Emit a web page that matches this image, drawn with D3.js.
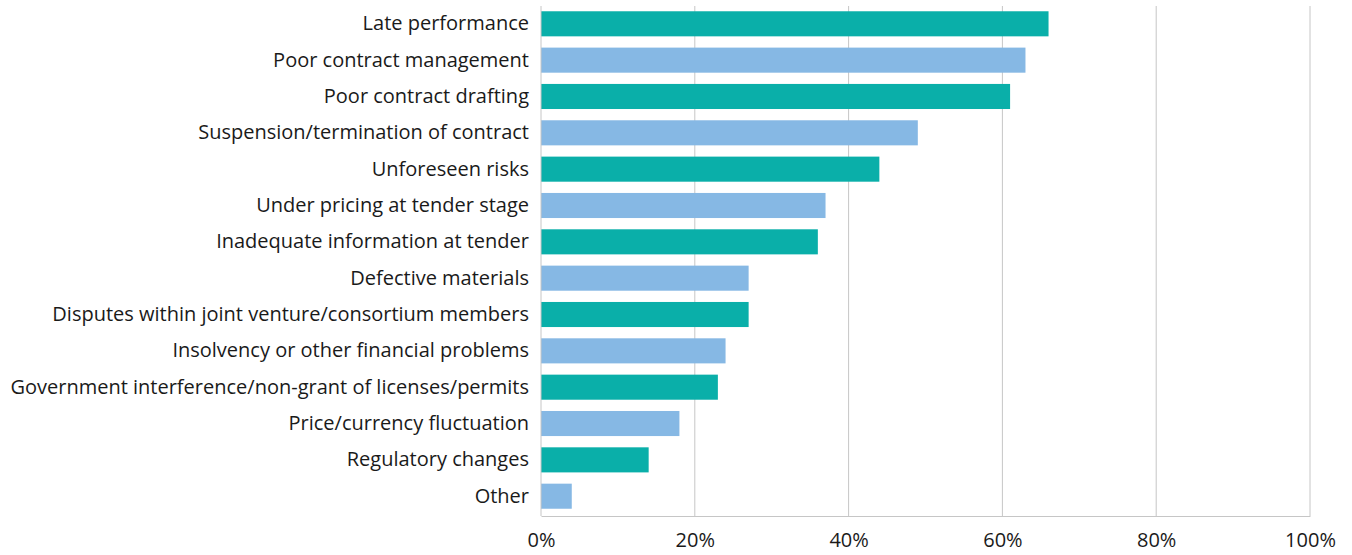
<!DOCTYPE html>
<html><head><meta charset="utf-8">
<script src="https://cdn.jsdelivr.net/npm/d3@7"></script>
<style>body{margin:0;background:#fff}svg{display:block}text{font-family:"Open Sans",sans-serif;fill:#1a1a1a}</style>
</head><body><svg id="c" width="1352" height="555"></svg>
<script>
const categories = ["Late performance","Poor contract management","Poor contract drafting","Suspension/termination of contract","Unforeseen risks","Under pricing at tender stage","Inadequate information at tender","Defective materials","Disputes within joint venture/consortium members","Insolvency or other financial problems","Government interference/non-grant of licenses/permits","Price/currency fluctuation","Regulatory changes","Other"];
const values = [66,63,61,49,44,37,36,27,27,24,23,18,14,4];
const tickValues = [0,20,40,60,80,100];
const colors = ["#0aafa9","#86b8e4"];

const svg = d3.select("#c");
const m = {left:541, right:1310, top:4, bottom:516};
const x = d3.scaleLinear().domain([0,100]).range([m.left,m.right]);
const y = d3.scaleBand().domain(categories).range([m.top,m.bottom]).paddingInner(0.31).paddingOuter(0.2);

svg.append("g").selectAll("line").data(tickValues.slice(1)).join("line")
  .attr("x1",d=>x(d)).attr("x2",d=>x(d)).attr("y1",6).attr("y2",m.bottom)
  .attr("stroke","#c6c6c6").attr("stroke-width",1);

svg.append("g").selectAll("rect").data(values).join("rect")
  .attr("x",x(0)).attr("y",(d,i)=>y(categories[i]))
  .attr("width",d=>x(d)-x(0)).attr("height",y.bandwidth())
  .attr("fill",(d,i)=>colors[i%2]);

const xa = svg.append("g").attr("transform",`translate(0,${m.bottom})`)
  .call(d3.axisBottom(x).tickValues(tickValues).tickFormat(d=>d+"%").tickSize(0).tickPadding(17));
xa.select(".domain").attr("stroke","#c6c6c6");
xa.selectAll("text").style("font-size","20px").style("font-family","'Open Sans',sans-serif").attr("fill","#1a1a1a");

const ya = svg.append("g").attr("transform",`translate(${m.left},0)`)
  .call(d3.axisLeft(y).tickSize(0).tickPadding(12));
ya.select(".domain").attr("stroke","#c6c6c6").attr("d",`M0,6V${m.bottom}`);
ya.selectAll("text").style("font-size","20px").style("font-family","'Open Sans',sans-serif").attr("fill","#1a1a1a");
</script></body></html>
